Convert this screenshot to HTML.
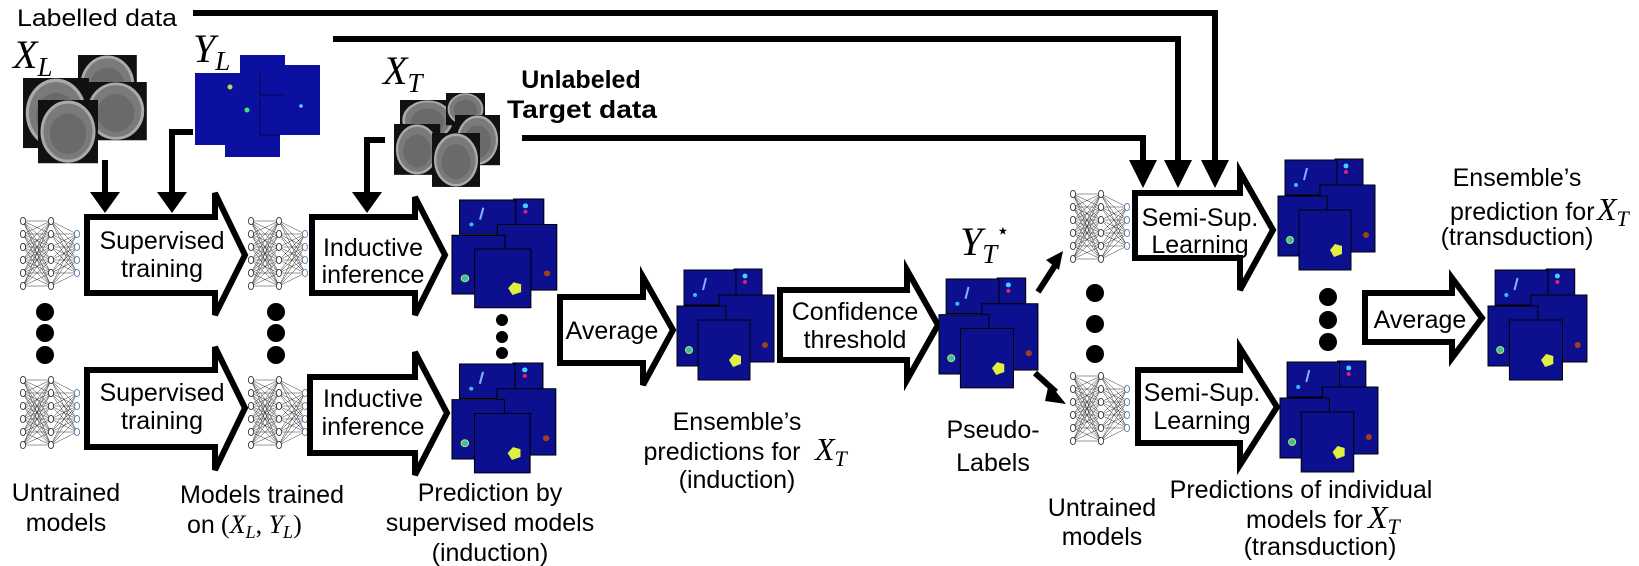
<!DOCTYPE html>
<html><head><meta charset="utf-8"><style>
html,body{margin:0;padding:0;background:#fff;}
svg{display:block;}
text{font-family:"Liberation Sans",sans-serif;fill:#000;}
.m{font-family:"Liberation Serif",serif;font-style:italic;}
</style></head><body>
<svg width="1639" height="566" viewBox="0 0 1639 566" xmlns="http://www.w3.org/2000/svg">
<defs>
<g id="nn">
<path fill="none" stroke="#333" stroke-width="0.5" d="M3 4L31 4M3 4L31 17M3 4L31 30M3 4L31 43M3 4L31 56M3 4L31 69M3 17L31 4M3 17L31 17M3 17L31 30M3 17L31 43M3 17L31 56M3 17L31 69M3 30L31 4M3 30L31 17M3 30L31 30M3 30L31 43M3 30L31 56M3 30L31 69M3 43L31 4M3 43L31 17M3 43L31 30M3 43L31 43M3 43L31 56M3 43L31 69M3 56L31 4M3 56L31 17M3 56L31 30M3 56L31 43M3 56L31 56M3 56L31 69M3 69L31 4M3 69L31 17M3 69L31 30M3 69L31 43M3 69L31 56M3 69L31 69M31 4L57 17M31 4L57 30M31 4L57 43M31 4L57 56M31 17L57 17M31 17L57 30M31 17L57 43M31 17L57 56M31 30L57 17M31 30L57 30M31 30L57 43M31 30L57 56M31 43L57 17M31 43L57 30M31 43L57 43M31 43L57 56M31 56L57 17M31 56L57 30M31 56L57 43M31 56L57 56M31 69L57 17M31 69L57 30M31 69L57 43M31 69L57 56"/>
<g fill="#fff" stroke="#222" stroke-width="0.8">
<ellipse cx="3" cy="4" rx="2.6" ry="3.6"/><ellipse cx="3" cy="17" rx="2.6" ry="3.6"/><ellipse cx="3" cy="30" rx="2.6" ry="3.6"/><ellipse cx="3" cy="43" rx="2.6" ry="3.6"/><ellipse cx="3" cy="56" rx="2.6" ry="3.6"/><ellipse cx="3" cy="69" rx="2.6" ry="3.6"/>
<ellipse cx="31" cy="4" rx="2.6" ry="3.6"/><ellipse cx="31" cy="17" rx="2.6" ry="3.6"/><ellipse cx="31" cy="30" rx="2.6" ry="3.6"/><ellipse cx="31" cy="43" rx="2.6" ry="3.6"/><ellipse cx="31" cy="56" rx="2.6" ry="3.6"/><ellipse cx="31" cy="69" rx="2.6" ry="3.6"/>
</g>
<g fill="#fff" stroke="#4a6fa0" stroke-width="0.8">
<ellipse cx="57" cy="17" rx="2.6" ry="3.6"/><ellipse cx="57" cy="30" rx="2.6" ry="3.6"/><ellipse cx="57" cy="43" rx="2.6" ry="3.6"/><ellipse cx="57" cy="56" rx="2.6" ry="3.6"/>
</g>
</g>
<g id="st">
<g fill="#0c0f8e" stroke="#000" stroke-width="1">
<rect x="57" y="1" width="28" height="27"/>
<rect x="7" y="2" width="52" height="35"/>
<rect x="42" y="27" width="55" height="67"/>
<rect x="0" y="38" width="49" height="60"/>
<rect x="21" y="52" width="52" height="60"/>
</g>
<circle cx="68" cy="8" r="2.5" fill="#40d0ff"/><circle cx="68" cy="14" r="2" fill="#e02070"/>
<path d="M29 10 L26 22" stroke="#80b0ff" stroke-width="2"/><circle cx="18" cy="27" r="2" fill="#30c0f0"/>
<circle cx="12" cy="82" r="3.5" fill="#30c0c0" stroke="#d0e040" stroke-width="1"/>
<path d="M52 92 L57 86 L64 88 L64 96 L56 99 Z" fill="#e0f040"/>
<circle cx="88" cy="77" r="3" fill="#a04020"/>
</g>
<g id="brain">
<rect x="0" y="0" width="60" height="62" fill="#111"/>
<ellipse cx="30" cy="31" rx="26" ry="29" fill="#7a7a7a" stroke="#aaa" stroke-width="3"/>
<ellipse cx="30" cy="33" rx="18" ry="20" fill="#6a6a6a"/>
</g>
</defs>

<g fill="none" stroke="#000" stroke-width="6">
<path d="M193 13 H1215 V165"/>
<path d="M333 39 H1178 V165"/>
<path d="M522 138 H1143 V165"/>
<path d="M105 160 V195"/>
<path d="M193 132 H172 V195"/>
<path d="M385 140 H367 V195"/>
<path d="M1038 292 L1056 264"/>
<path d="M1035 373 L1056 392"/>
</g>
<g fill="#000">
<polygon points="1129,160 1157,160 1143,188"/>
<polygon points="1164,160 1192,160 1178,188"/>
<polygon points="1201,160 1229,160 1215,188"/>
<polygon points="90,192 120,192 105,213"/>
<polygon points="157,192 187,192 172,213"/>
<polygon points="352,192 382,192 367,213"/>
<polygon points="1063,251 1046,260 1059,270"/>
<polygon points="1066,404 1049,383 1045,401"/>
</g>

<text x="17" y="26" font-size="24" textLength="160" lengthAdjust="spacingAndGlyphs">Labelled data</text>
<text class="m" x="13" y="68" font-size="40">X<tspan font-size="27" dy="8">L</tspan></text>
<text class="m" x="193" y="62" font-size="40">Y<tspan font-size="27" dy="8">L</tspan></text>
<text class="m" x="383" y="84" font-size="40">X<tspan font-size="27" dy="8">T</tspan></text>
<text x="581" y="88" font-size="25" font-weight="bold" text-anchor="middle">Unlabeled</text>
<text x="582" y="118" font-size="25" font-weight="bold" text-anchor="middle" textLength="150" lengthAdjust="spacingAndGlyphs">Target data</text>

<use href="#brain" transform="translate(78,55) scale(0.98,0.97)"/>
<use href="#brain" transform="translate(23,78) scale(1.1,1.13)"/>
<use href="#brain" transform="translate(85,82) scale(1.03,0.94)"/>
<use href="#brain" transform="translate(38,100) scale(1.0,1.02)"/>
<g fill="#0c10a0">
<rect x="240" y="55" width="45" height="40"/>
<rect x="260" y="65" width="60" height="70"/>
<rect x="195" y="73" width="65" height="72"/>
<rect x="225" y="98" width="55" height="59"/>
</g>
<g stroke="#000" stroke-width="0.6" fill="none">
<path d="M260 73 V95 H285 M260 98 V135 H280"/>
</g>
<circle cx="230" cy="87" r="2.5" fill="#b0e040"/><circle cx="247" cy="110" r="2.5" fill="#40e080"/><circle cx="301" cy="106" r="1.8" fill="#60d0ff"/>
<use href="#brain" transform="translate(400,100) scale(0.92,0.65)"/>
<use href="#brain" transform="translate(446,93) scale(0.65,0.52)"/>
<use href="#brain" transform="translate(455,115) scale(0.75,0.81)"/>
<use href="#brain" transform="translate(394,124) scale(0.77,0.82)"/>
<use href="#brain" transform="translate(432,133) scale(0.8,0.87)"/>

<use href="#nn" transform="translate(20,217)"/>
<use href="#nn" transform="translate(20,376)"/>
<use href="#nn" transform="translate(248,217)"/>
<use href="#nn" transform="translate(248,376)"/>
<use href="#nn" transform="translate(1070,190)"/>
<use href="#nn" transform="translate(1070,372)"/>

<g fill="#000">
<circle cx="45" cy="312" r="9"/><circle cx="45" cy="333" r="9"/><circle cx="45" cy="355" r="9"/>
<circle cx="276" cy="312" r="9"/><circle cx="276" cy="333" r="9"/><circle cx="276" cy="355" r="9"/>
<circle cx="502" cy="320" r="6"/><circle cx="502" cy="337" r="6"/><circle cx="502" cy="353" r="6"/>
<circle cx="1095" cy="293" r="9"/><circle cx="1095" cy="324" r="9"/><circle cx="1095" cy="354" r="9"/>
<circle cx="1328" cy="297" r="9"/><circle cx="1328" cy="320" r="9"/><circle cx="1328" cy="342" r="9"/>
</g>

<g fill="#fff" stroke="#000" stroke-width="6" stroke-linejoin="miter">
<polygon points="87,217 215,217 215,193 245,255 215,315 215,293 87,293"/>
<polygon points="87,370 215,370 215,347 245,408 215,470 215,447 87,447"/>
<polygon points="312,217 415,217 415,197 445,255 415,315 415,293 312,293"/>
<polygon points="310,377 415,377 415,352 447,413 415,475 415,453 310,453"/>
<polygon points="560,297 643,297 643,277 673,330 643,385 643,363 560,363"/>
<polygon points="780,290 907,290 907,270 938,325 907,380 907,360 780,360"/>
<polygon points="1135,193 1240,193 1240,172 1273,230 1240,290 1240,258 1135,258"/>
<polygon points="1138,370 1240,370 1240,348 1277,407 1240,465 1240,443 1138,443"/>
<polygon points="1365,293 1452,293 1452,278 1482,318 1452,358 1452,342 1365,342"/>
</g>

<use href="#st" transform="translate(452,198) scale(1.08,0.98)"/>
<use href="#st" transform="translate(452,362) scale(1.07,0.99)"/>
<use href="#st" transform="translate(677,268)"/>
<use href="#st" transform="translate(939,277) scale(1.02,0.99)"/>
<use href="#st" transform="translate(1278,158)"/>
<use href="#st" transform="translate(1280,360) scale(1.01,1)"/>
<use href="#st" transform="translate(1488,268) scale(1.02,1)"/>

<g font-size="25" text-anchor="middle">
<text x="162" y="249">Supervised</text><text x="162" y="277">training</text>
<text x="162" y="401">Supervised</text><text x="162" y="429">training</text>
<text x="373" y="256">Inductive</text><text x="373" y="283">inference</text>
<text x="373" y="407">Inductive</text><text x="373" y="435">inference</text>
<text x="612" y="339">Average</text>
<text x="855" y="320">Confidence</text><text x="855" y="348">threshold</text>
<text x="1200" y="226">Semi-Sup.</text><text x="1200" y="253">Learning</text>
<text x="1202" y="401">Semi-Sup.</text><text x="1202" y="429">Learning</text>
<text x="1420" y="328">Average</text>
</g>

<g font-size="25" text-anchor="middle">
<text x="66" y="501">Untrained</text><text x="66" y="531">models</text>
<text x="262" y="503">Models trained</text>
<text x="490" y="501">Prediction by</text><text x="490" y="531">supervised models</text><text x="490" y="561">(induction)</text>
<text x="737" y="430">Ensemble’s</text><text x="722" y="460">predictions for</text><text x="737" y="488">(induction)</text>
<text x="993" y="438">Pseudo-</text><text x="993" y="471">Labels</text>
<text x="1102" y="516">Untrained</text><text x="1102" y="545">models</text>
<text x="1301" y="498">Predictions of individual</text>
<text x="1320" y="555">(transduction)</text>
<text x="1517" y="186">Ensemble’s</text>
<text x="1517" y="245">(transduction)</text>
</g>
<text x="187" y="533" font-size="25">on</text>
<text class="m" x="221" y="533" font-size="26"><tspan font-style="normal">(</tspan>X<tspan font-size="18" dy="5">L</tspan><tspan dy="-5" font-style="normal">,</tspan> Y<tspan font-size="18" dy="5">L</tspan><tspan dy="-5" font-style="normal">)</tspan></text>
<text class="m" x="815" y="460" font-size="32">X<tspan font-size="22" dy="6">T</tspan></text>
<text class="m" x="960" y="255" font-size="40">Y<tspan font-size="27" dy="8">T</tspan></text>
<text x="996" y="238" font-size="22" font-family="DejaVu Sans">⋆</text>
<text x="1246" y="528" font-size="25">models for</text>
<text class="m" x="1368" y="528" font-size="32">X<tspan font-size="22" dy="6">T</tspan></text>
<text x="1450" y="220" font-size="25">prediction for</text>
<text class="m" x="1597" y="220" font-size="32">X<tspan font-size="22" dy="6">T</tspan></text>
</svg>
</body></html>
